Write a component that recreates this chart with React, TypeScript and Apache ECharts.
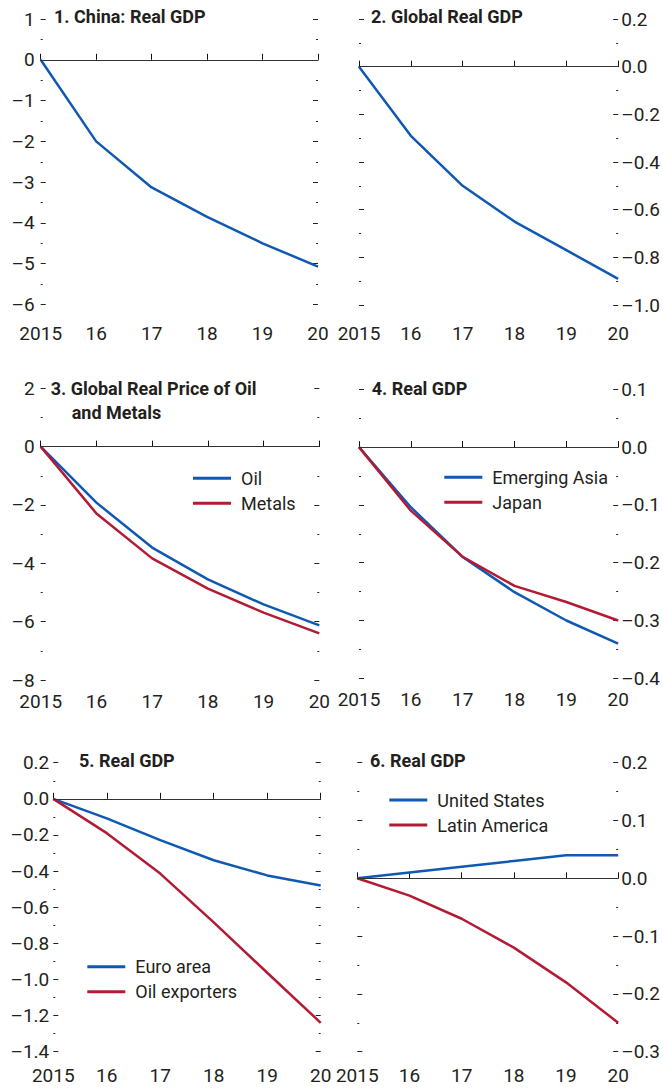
import React, { useEffect, useRef } from 'react';
import * as echarts from 'echarts';

// ---------- data ----------
const years = ['2015', '16', '17', '18', '19', '20'];
const chinaGDP = [0, -2.0, -3.13, -3.85, -4.5, -5.07];
const globalGDP = [0, -0.29, -0.5, -0.65, -0.77, -0.89];
const oilPrice = [0, -1.92, -3.46, -4.55, -5.41, -6.13];
const metalsPrice = [0, -2.29, -3.83, -4.87, -5.69, -6.4];
const emergingAsia = [0, -0.104, -0.19, -0.251, -0.3, -0.34];
const japan = [0, -0.11, -0.19, -0.24, -0.268, -0.3];
const euroArea = [0, -0.108, -0.229, -0.34, -0.424, -0.48];
const oilExporters = [0, -0.19, -0.414, -0.684, -0.963, -1.24];
const unitedStates = [0, 0.01, 0.02, 0.03, 0.04, 0.04];
const latinAmerica = [0, -0.03, -0.07, -0.12, -0.18, -0.25];

const titles = [
  '1. China: Real GDP',
  '2. Global Real GDP',
  '3. Global Real Price of Oil',
  '4. Real GDP',
  '5. Real GDP',
  '6. Real GDP',
];
const title3Line2 = 'and Metals';

const yMin = [-6, -1.0, -8, -0.4, -1.4, -0.3];
const yMax = [1, 0.2, 2, 0.1, 0.2, 0.2];
const yInterval = [1, 0.2, 2, 0.1, 0.2, 0.1];
const yDecimals = [0, 1, 0, 1, 1, 1];

const BLUE = '#1059b3';
const RED = '#b31b34';
const TEXT = '#231f20';
const FONT = 'Roboto, "Liberation Sans", sans-serif';

// layout (px)
const grids = [
  { left: 40.7, top: 19, width: 277.3, height: 285.5 },
  { left: 359, top: 19, width: 262, height: 286 },
  { left: 40.7, top: 388.3, width: 278.6, height: 291.7 },
  { left: 359, top: 389.3, width: 260.3, height: 289 },
  { left: 53.3, top: 762.7, width: 267.4, height: 289 },
  { left: 357.3, top: 762.7, width: 261.7, height: 289 },
];
const labelRight = [false, true, false, true, false, true];
const xLabelMargin = [19, 19, 12, 12, 14, 14];

function fmt(v: number, d: number) {
  const s = Math.abs(v) < 1e-9 ? (0).toFixed(d) : v.toFixed(d);
  return s.replace('-', '\u2013');
}

export default function App() {
  const ref = useRef<HTMLDivElement>(null);
  useEffect(() => {
    if (!ref.current) return;
    const chart = echarts.init(ref.current, undefined, { renderer: 'svg' });

    const xAxis: any[] = [];
    const yAxis: any[] = [];
    grids.forEach((g, i) => {
      xAxis.push({
        type: 'category',
        gridIndex: i,
        data: years,
        boundaryGap: false,
        axisLine: { show: true, lineStyle: { color: '#111', width: 1 } },
        axisTick: { show: true, inside: true, length: 6, lineStyle: { color: '#111', width: 1 } },
        axisLabel: {
          color: TEXT,
          fontSize: 19,
          fontFamily: FONT,
          margin: xLabelMargin[i],
          interval: 0,
        },
        splitLine: { show: false },
      });
      ['left', 'right'].forEach((pos) => {
        const showLabel = (pos === 'right') === labelRight[i];
        yAxis.push({
          type: 'value',
          gridIndex: i,
          position: pos,
          min: yMin[i],
          max: yMax[i],
          interval: yInterval[i],
          axisLine: { show: false },
          axisTick: { show: true, inside: true, length: 5, lineStyle: { color: '#222', width: 1 } },
          minorTick: { show: true, splitNumber: 2, length: 2, lineStyle: { color: '#222', width: 1 } },
          splitLine: { show: false },
          minorSplitLine: { show: false },
          axisLabel: {
            show: showLabel,
            color: TEXT,
            fontSize: 19,
            fontFamily: FONT,
            margin: pos === 'left' ? (i === 4 ? 4 : 6) : 3,
            formatter: (v: number) => fmt(v, yDecimals[i]),
          },
        });
      });
    });

    const zeroLine = () => ({
      silent: true,
      symbol: 'none',
      label: { show: false },
      lineStyle: { color: '#333', width: 1, type: 'solid' },
      data: [{ yAxis: 0 }],
    });

    const mk = (name: string, data: number[], grid: number, color: string, withZero: boolean) => ({
      type: 'line',
      name,
      data,
      xAxisIndex: grid,
      yAxisIndex: grid * 2,
      symbol: 'none',
      lineStyle: { color, width: 2.5 },
      itemStyle: { color },
      z: 3,
      markLine: withZero ? zeroLine() : undefined,
    });

    const series = [
      mk('China', chinaGDP, 0, BLUE, true),
      mk('Global', globalGDP, 1, BLUE, true),
      mk('Oil', oilPrice, 2, BLUE, true),
      mk('Metals', metalsPrice, 2, RED, false),
      mk('Emerging Asia', emergingAsia, 3, BLUE, true),
      mk('Japan', japan, 3, RED, false),
      mk('Euro area', euroArea, 4, BLUE, true),
      mk('Oil exporters', oilExporters, 4, RED, false),
      mk('United States', unitedStates, 5, BLUE, true),
      mk('Latin America', latinAmerica, 5, RED, false),
    ];

    const legendBase = {
      orient: 'vertical',
      icon: 'rect',
      itemWidth: 38,
      itemHeight: 3,
      itemGap: 5,
      padding: 0,
      selectedMode: false,
      textStyle: { color: TEXT, fontSize: 18, fontFamily: FONT, lineHeight: 20, padding: [0, 0, 0, 5] },
    };
    const legend = [
      { ...legendBase, data: ['Oil', 'Metals'], left: 193, top: 468.3 },
      { ...legendBase, data: ['Emerging Asia', 'Japan'], left: 444.3, top: 467.3 },
      { ...legendBase, data: ['Euro area', 'Oil exporters'], left: 87.3, top: 956.7 },
      { ...legendBase, data: ['United States', 'Latin America'], left: 389.3, top: 790 },
    ];

    const titleStyle = { color: TEXT, fontSize: 18, fontWeight: 'bold', fontFamily: FONT };
    const titlePos = [
      { left: 54, top: 7.5 },
      { left: 371, top: 7.5 },
      { left: 50.7, top: 379 },
      { left: 371.7, top: 379 },
      { left: 79, top: 751.5 },
      { left: 370, top: 751.5 },
    ];
    const title: any[] = titles.map((t, i) => ({
      text: t,
      ...titlePos[i],
      padding: 0,
      textStyle: titleStyle,
    }));
    title.push({ text: title3Line2, left: 71.7, top: 403.5, padding: 0, textStyle: titleStyle });

    chart.setOption({
      animation: false,
      backgroundColor: '#ffffff',
      title,
      legend,
      grid: grids.map((g) => ({ ...g, containLabel: false })),
      xAxis,
      yAxis,
      series,
    });
    return () => chart.dispose();
  }, []);
  return (
    <div
      ref={ref}
      style={{ position: 'absolute', left: 0, top: 0, width: 663, height: 1088, background: '#fff' }}
    />
  );
}
